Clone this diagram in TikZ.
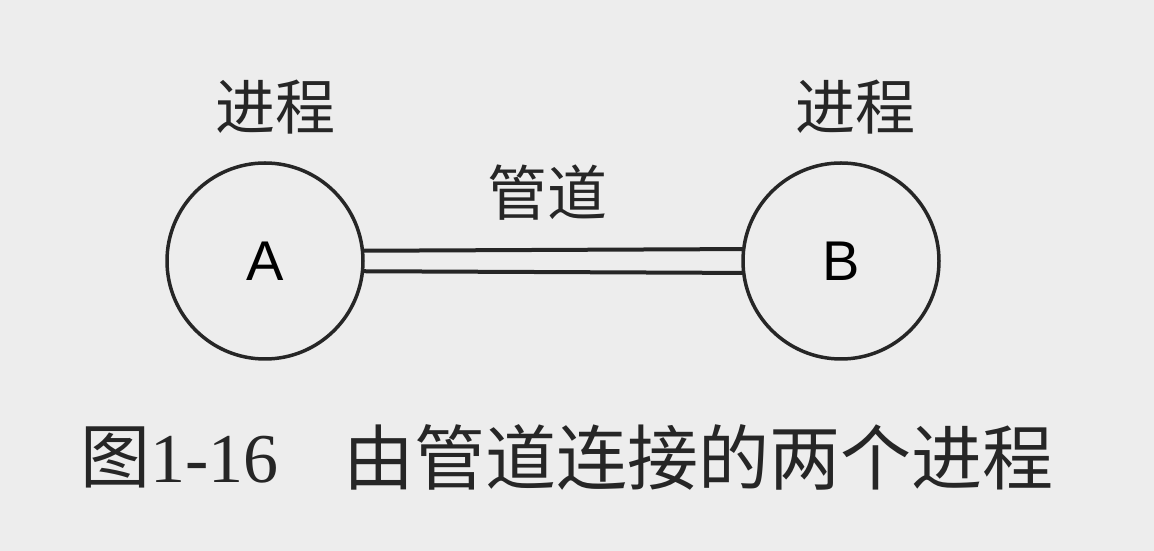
\documentclass[tikz,border=0pt]{standalone}
\usepackage{fontspec}
\setmainfont{Liberation Serif}
\newfontfamily\cjk{Noto Sans CJK SC}
\newfontfamily\sansf{Liberation Sans}
\begin{document}
\begin{tikzpicture}[x=1pt,y=1pt,
  proc/.style={circle,draw=black!85,line width=3.5pt,minimum size=196pt,inner sep=0pt,outer sep=0pt,font=\sansf\fontsize{56}{60}\selectfont},
  lbl/.style={inner sep=0pt,font=\cjk\fontsize{60}{64}\selectfont,text=black!85},
  pipe/.style={line width=4pt,draw=black!85},
  captext/.style={inner sep=0pt,anchor=west,text=black!85}]
\fill[black!7] (0,0) rectangle (1154,551);
\useasboundingbox (0,0) rectangle (1154,551);
\node[proc] (A) at (265,290) {A};
\node[proc] (B) at (841,290) {B};
\draw[pipe] (A.6.5) -- (B.173.5);
\draw[pipe] (A.-6.5) -- (B.-173.5);
\node[lbl] (la) at (275,444) {进程};
\node[lbl] (lb) at (855,444) {进程};
\node[lbl] (lp) at (547,358) {管道};
\node[captext,font=\fontsize{70}{74}\selectfont] (c1) at (80,94) {{\cjk 图}1-16};
\node[captext,font=\cjk\fontsize{71}{75}\selectfont] (c2) at (343,94) {由管道连接的两个进程};
\end{tikzpicture}
\end{document}
